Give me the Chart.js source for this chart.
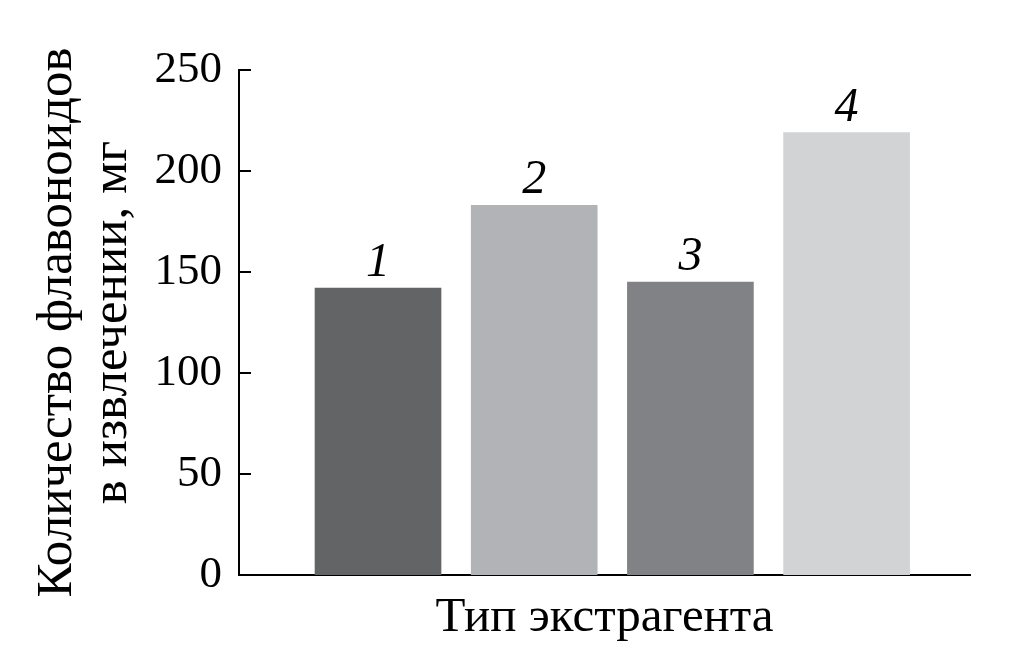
<!DOCTYPE html>
<html>
<head>
<meta charset="utf-8">
<script src="https://cdn.jsdelivr.net/npm/chart.js@4.4.1/dist/chart.umd.min.js"></script>
<style>
  html, body { margin: 0; padding: 0; background: #fff; }
  #wrap { width: 1010px; height: 652px; }
</style>
</head>
<body>
<div id="wrap"><canvas id="chart"></canvas></div>
<script>
// Данные: количество флавоноидов по типу экстрагента
const extractantIds = ['1', '2', '3', '4'];
const flavonoidValues = [142, 183, 145, 219];
const barColors = ['#636466', '#b2b3b6', '#818285', '#d2d3d5'];
const yTickValues = [0, 50, 100, 150, 200, 250];

const yTitleLines = ['Количество флавоноидов', 'в извлечении, мг'];
const xTitle = 'Тип экстрагента';

const SERIF = "'Liberation Serif', 'Times New Roman', serif";

// подписи 1..4 курсивом над столбцами
const barLabels = {
    id: 'barLabels',
    afterDatasetsDraw(chart) {
        const ctx = chart.ctx;
        const meta = chart.getDatasetMeta(0);
        ctx.save();
        ctx.fillStyle = '#000';
        ctx.font = 'italic 48px ' + SERIF;
        ctx.textAlign = 'center';
        ctx.textBaseline = 'alphabetic';
        meta.data.forEach((bar, i) => {
            ctx.fillText(extractantIds[i], bar.x, bar.y - 12);
        });
        ctx.restore();
    }
};

// засечки внутрь области графика
const innerTicks = {
    id: 'innerTicks',
    afterDraw(chart) {
        const ctx = chart.ctx;
        const y = chart.scales.y;
        const left = chart.chartArea.left;
        ctx.save();
        ctx.strokeStyle = '#000';
        ctx.lineWidth = 2;
        yTickValues.forEach(v => {
            const py = Math.round(y.getPixelForValue(v));
            ctx.beginPath();
            ctx.moveTo(left, py);
            ctx.lineTo(left + 12, py);
            ctx.stroke();
        });
        ctx.restore();
    }
};

new Chart(document.getElementById('chart'), {
    type: 'bar',
    data: {
        datasets: [{
            data: flavonoidValues.map((v, i) => ({ x: i + 1, y: v })),
            backgroundColor: barColors,
            borderWidth: 0,
            barThickness: 126
        }]
    },
    options: {
        responsive: true,
        maintainAspectRatio: false,
        animation: false,
        layout: { padding: { top: 70, right: 40, left: 0, bottom: 0 } },
        plugins: {
            legend: { display: false },
            tooltip: { enabled: false }
        },
        scales: {
            x: {
                type: 'linear',
                offset: false,
                min: 0.11,
                max: 4.79,
                grid: { display: false, drawTicks: false },
                border: { display: true, color: '#000', width: 2 },
                ticks: { display: false },
                title: {
                    display: true,
                    text: xTitle,
                    color: '#000',
                    font: { family: SERIF, size: 49 },
                    padding: { top: 8 }
                },
                afterFit(s) { s.height = 77; }
            },
            y: {
                min: 0,
                max: 250,
                afterBuildTicks(s) { s.ticks = yTickValues.map(v => ({ value: v })); },
                grid: { display: false, drawTicks: false },
                border: { display: true, color: '#000', width: 2 },
                ticks: {
                    color: '#000',
                    padding: 17,
                    font: { family: SERIF, size: 45 }
                },
                title: {
                    display: true,
                    text: yTitleLines,
                    color: '#000',
                    font: { family: SERIF, size: 51, lineHeight: 1.08 },
                    padding: { top: 30, bottom: 0 }
                },
                afterFit(s) { s.width = 239; }
            }
        }
    },
    plugins: [barLabels, innerTicks]
});
</script>
</body>
</html>
